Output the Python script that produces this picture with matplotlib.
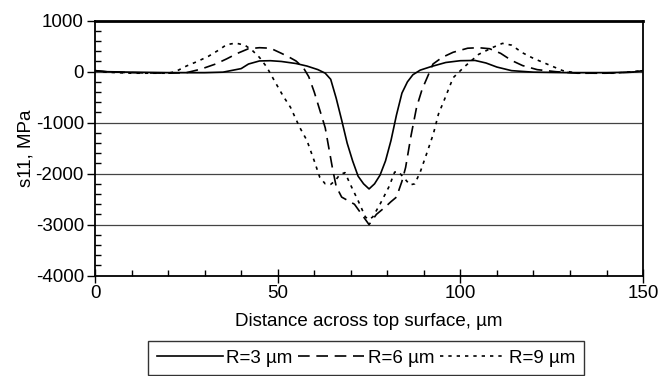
import matplotlib.pyplot as plt
from matplotlib.ticker import MultipleLocator

plt.rcParams['font.family'] = ['Liberation Sans', 'DejaVu Sans']
plt.rcParams['axes.unicode_minus'] = False

# s11 stress profiles across the top surface for three radii
x_r3 = [0, 3, 10, 20, 30, 35, 40, 42, 45, 48, 51, 55, 58, 61, 63, 64.5, 66, 67.5,
        69, 70.5, 72, 73.5, 75, 76.5, 78, 79.5, 81, 82.5, 84, 85.5, 87, 89, 92,
        96, 100, 104, 107, 110, 114, 120, 130, 140, 147, 150]
s_r3 = [20, 0, -10, -20, -20, -10, 60, 150, 210, 215, 200, 160, 110, 40, -30,
        -150, -520, -950, -1400, -1750, -2050, -2200, -2300, -2200, -2030,
        -1750, -1350, -850, -420, -200, -60, 30, 100, 180, 215, 220, 170, 90,
        20, -10, -20, -20, -10, 20]

x_r6 = [0, 3, 10, 20, 25, 29, 33, 36, 39, 42, 45, 48, 51, 53, 55, 57, 58.5, 60,
        61.5, 63, 64, 65, 66, 67.5, 69, 71, 72.5, 75, 77, 79.5, 81, 82.5, 84,
        85, 86.5, 88, 89.5, 91, 92.5, 95, 98, 102, 105, 108, 111, 114, 117, 121,
        126, 132, 140, 147, 150]
s_r6 = [20, 0, -20, -30, -20, 50, 150, 250, 360, 450, 470, 460, 360, 290, 210,
        80, -100, -400, -750, -1100, -1500, -1900, -2250, -2460, -2520, -2600,
        -2750, -3000, -2800, -2650, -2550, -2460, -2150, -1880, -1250, -700,
        -350, -100, 150, 280, 380, 460, 470, 450, 360, 220, 120, 40, 0, -30,
        -30, -10, 20]

x_r9 = [0, 3, 10, 20, 22, 25, 28, 31, 34, 36, 38.5, 41, 43, 45, 47, 49.5, 51.5,
        53.5, 56, 58, 60, 61.5, 63, 64.5, 65.7, 67, 68.4, 69.8, 72, 74, 75, 76,
        78, 80.5, 82, 83, 84.4, 86.2, 87.5, 89, 90.8, 92.6, 94, 95.5, 98, 101,
        105, 109, 111.5, 114, 117, 120, 123, 128, 132, 142, 147, 150]
s_r9 = [20, -10, -30, -30, 0, 110, 200, 300, 430, 530, 560, 520, 420, 280, 90,
        -230, -480, -700, -1090, -1350, -1750, -2070, -2200, -2210, -2140,
        -2020, -1980, -2200, -2530, -2850, -2900, -2850, -2600, -2250, -1970,
        -1960, -2070, -2220, -2200, -1970, -1600, -1220, -830, -570, -120, 90,
        340, 480, 555, 520, 370, 260, 170, 20, -30, -30, 0, 20]

fig = plt.figure(figsize=(6.72, 3.76), dpi=100)
ax = fig.add_axes([0.1414, 0.267, 0.8156, 0.678])

ax.plot(x_r3, s_r3, color='black', lw=1.2, label='R=3 \u00b5m')
ax.plot(x_r6, s_r6, color='black', lw=1.2, dashes=(7, 4), label='R=6 \u00b5m')
ax.plot(x_r9, s_r9, color='black', lw=1.2, dashes=(2, 3), label='R=9 \u00b5m')

for yv in [-3000, -2000, -1000, 0]:
    ax.axhline(yv, color='#444444', lw=0.9, zorder=0)

ax.set_xlim(0, 150)
ax.set_ylim(-4000, 1000)
ax.xaxis.set_major_locator(MultipleLocator(50))
ax.xaxis.set_minor_locator(MultipleLocator(10))
ax.yaxis.set_major_locator(MultipleLocator(1000))
ax.yaxis.set_minor_locator(MultipleLocator(200))
ax.tick_params(axis='x', which='major', direction='inout', length=10, width=1,
               labelsize=13.5, pad=2)
ax.tick_params(axis='x', which='minor', direction='in', length=4, width=1)
ax.tick_params(axis='y', which='major', direction='out', length=6, width=1,
               labelsize=13.5, pad=2)
ax.tick_params(axis='y', which='minor', direction='in', length=4, width=1)

for side in ['left', 'bottom', 'right']:
    ax.spines[side].set_linewidth(1.3)
ax.spines['top'].set_linewidth(2)

ax.set_xlabel('Distance across top surface, \u00b5m', fontsize=13.5, labelpad=8)
ax.set_ylabel('s11, MPa', fontsize=13.5, labelpad=1)

leg = fig.legend(loc='upper center', bbox_to_anchor=(0.545, 0.093), ncol=3,
                 fontsize=13.5, frameon=True, fancybox=False, edgecolor='black',
                 handlelength=3.5, handletextpad=0.2, columnspacing=0.3,
                 borderpad=0.45, borderaxespad=0)
leg.get_frame().set_linewidth(1)

fig.savefig('out.png', dpi=100)
